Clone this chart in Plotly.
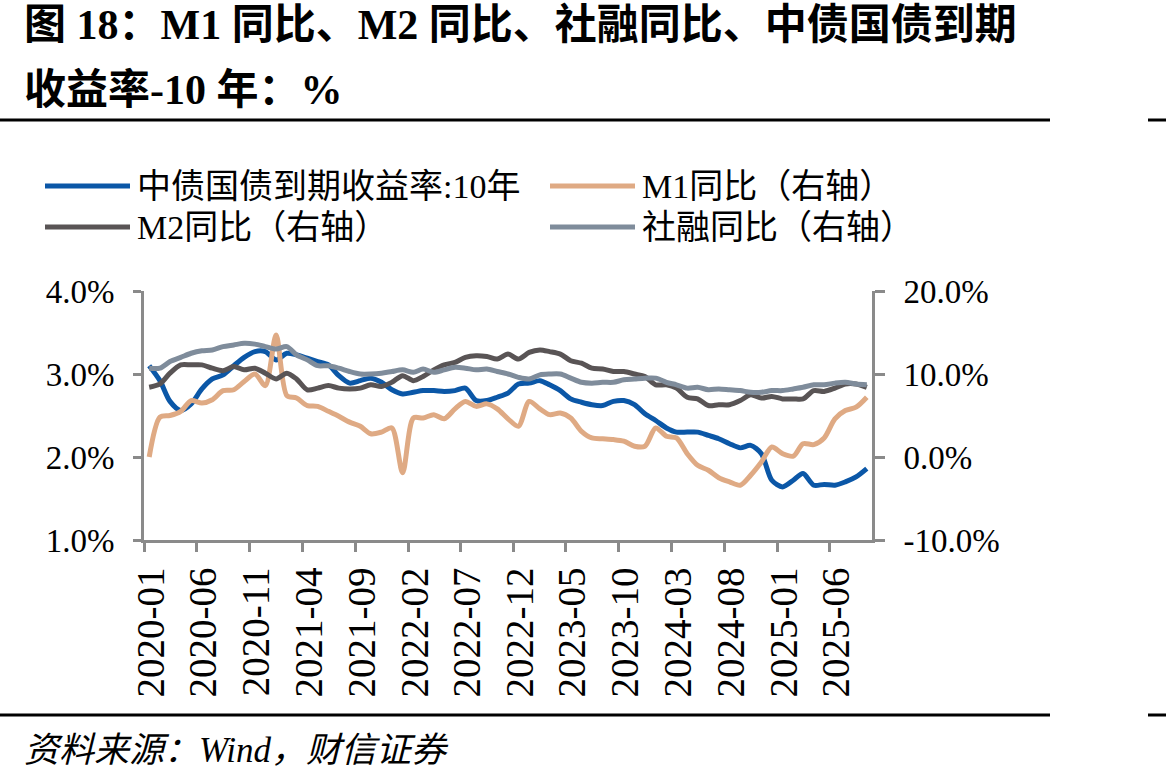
import plotly.graph_objects as go
import pandas as pd

# ---------------- data (monthly, 2020-01 .. 2025-09) ----------------
months = pd.date_range("2020-01-01", "2025-09-01", freq="MS")
x_dates = months + pd.Timedelta(days=15)

yield_10y = [3.10, 2.92, 2.67, 2.56, 2.64, 2.82, 2.94, 2.99, 3.10, 3.20, 3.27, 3.27,
             3.17, 3.25, 3.23, 3.19, 3.15, 3.11, 2.98, 2.89, 2.92, 2.95, 2.90, 2.81,
             2.76, 2.78, 2.80, 2.80, 2.79, 2.80, 2.83, 2.68, 2.68, 2.72, 2.77, 2.88,
             2.89, 2.92, 2.87, 2.80, 2.70, 2.66, 2.63, 2.62, 2.67, 2.68, 2.63, 2.52,
             2.44, 2.35, 2.30, 2.30, 2.30, 2.26, 2.22, 2.16, 2.11, 2.14, 2.04, 1.72,
             1.64, 1.72, 1.80, 1.66, 1.67, 1.66, 1.70, 1.76, 1.86]

m1_yoy = [0.0, 4.8, 5.0, 5.5, 6.8, 6.5, 6.9, 8.0, 8.1, 9.1, 10.0, 8.6,
          14.7, 7.4, 7.1, 6.2, 6.1, 5.5, 4.9, 4.2, 3.7, 2.8, 3.0, 3.5,
          -1.9, 4.7, 4.7, 5.1, 4.6, 5.8, 6.7, 6.1, 6.4, 5.8, 4.6, 3.7,
          6.7, 5.8, 5.1, 5.3, 4.7, 3.1, 2.3, 2.2, 2.1, 1.9, 1.3, 1.3,
          3.5, 2.5, 2.3, 0.4, -1.0, -1.6, -2.5, -3.0, -3.4, -2.2, -0.6, 1.2,
          0.4, 0.1, 1.6, 1.5, 2.3, 4.6, 5.6, 6.0, 7.2]

m2_yoy = [8.4, 8.8, 10.1, 11.1, 11.1, 11.1, 10.7, 10.4, 10.9, 10.5, 10.7, 10.1,
          9.4, 10.1, 9.4, 8.1, 8.3, 8.6, 8.3, 8.2, 8.3, 8.7, 8.5, 9.0,
          9.8, 9.2, 9.7, 10.5, 11.1, 11.4, 12.0, 12.2, 12.1, 11.8, 12.4, 11.8,
          12.6, 12.9, 12.7, 12.4, 11.6, 11.3, 10.7, 10.6, 10.3, 10.3, 10.0, 9.7,
          8.7, 8.7, 8.3, 7.2, 7.0, 6.2, 6.3, 6.3, 6.8, 7.5, 7.1, 7.3,
          7.0, 7.0, 7.0, 8.0, 7.9, 8.3, 8.8, 8.8, 8.4]

tsf_yoy = [10.7, 10.7, 11.5, 12.0, 12.5, 12.8, 12.9, 13.3, 13.5, 13.7, 13.6, 13.3,
           13.0, 13.3, 12.3, 11.7, 11.0, 11.0, 10.7, 10.3, 10.0, 10.0, 10.1, 10.3,
           10.5, 10.2, 10.6, 10.2, 10.5, 10.8, 10.7, 10.5, 10.6, 10.3, 10.0, 9.6,
           9.4, 9.9, 10.0, 10.0, 9.5, 9.0, 8.9, 9.0, 9.0, 9.3, 9.4, 9.5,
           9.5, 9.0, 8.7, 8.3, 8.4, 8.1, 8.2, 8.1, 8.0, 7.8, 7.8, 8.0,
           8.0, 8.2, 8.4, 8.7, 8.7, 8.9, 9.0, 8.8, 8.7]

series_names = ["中债国债到期收益率:10年", "M1同比（右轴）", "M2同比（右轴）", "社融同比（右轴）"]
series_colors = ["#0B57A7", "#DFAA84", "#595455", "#7F8C9B"]

tick_months = months[::5]
tick_text = [d.strftime("%Y-%m") for d in tick_months]

left_ticks = [1, 2, 3, 4]
left_text = ["1.0%", "2.0%", "3.0%", "4.0%"]
right_ticks = [-10, 0, 10, 20]
right_text = ["-10.0%", "0.0%", "10.0%", "20.0%"]

title_lines = ["图 18：M1 同比、M2 同比、社融同比、中债国债到期", "收益率-10 年：%"]
source_text = "资料来源：Wind，财信证券"

# ---------------- figure ----------------
W, H = 1166, 783
def px(x):
    return x / W
def py(y):
    return 1 - y / H

AX = "#8A8A8A"
FONT = "Liberation Serif, Times New Roman, Noto Sans CJK SC, serif"

fig = go.Figure()
data = [(yield_10y, "y"), (m1_yoy, "y2"), (m2_yoy, "y2"), (tsf_yoy, "y2")]
for (vals, yax), name, col in zip(data, series_names, series_colors):
    fig.add_trace(go.Scatter(
        x=x_dates, y=vals, name=name, yaxis=yax, mode="lines",
        line=dict(color=col, width=5, shape="spline", smoothing=0.8),
        showlegend=False))

axis_common = dict(showline=True, linecolor=AX, linewidth=3, ticks="outside",
                   tickcolor=AX, tickwidth=3, showgrid=False, zeroline=False,
                   automargin=False)

fig.update_layout(
    width=W, height=H,
    margin=dict(l=0, r=0, t=0, b=0),
    paper_bgcolor="white", plot_bgcolor="white",
    xaxis=dict(domain=[px(144), px(872)], type="date",
               range=["2020-01-01", "2025-10-01"],
               tickvals=list(tick_months), ticktext=tick_text,
               tickangle=-90, ticklen=9, ticklabelshift=7,
               tickfont=dict(family=FONT, size=39, color="black"),
               anchor="y", **axis_common),
    yaxis=dict(domain=[py(540), py(291)], range=[1, 4],
               tickvals=left_ticks, ticktext=left_text,
               ticklen=8, ticklabelstandoff=12,
               tickfont=dict(family=FONT, size=33, color="black"),
               anchor="x", **axis_common),
    yaxis2=dict(domain=[py(540), py(291)], range=[-10, 20],
                tickvals=right_ticks, ticktext=right_text,
                ticklen=10, ticklabelstandoff=12,
                overlaying="y", side="right", anchor="x",
                tickfont=dict(family=FONT, size=33, color="black"),
                **axis_common),
)

shapes = []
annotations = []

# title
for txt, yy in zip(title_lines, [25, 90]):
    annotations.append(dict(text="<b>" + txt + "</b>", x=px(22), y=py(yy),
                            xref="paper", yref="paper", xanchor="left", yanchor="middle",
                            showarrow=False,
                            font=dict(family=FONT, size=42, color="black")))

# rules
for yy in [120, 715]:
    shapes.append(dict(type="line", xref="paper", yref="paper",
                       x0=0, x1=px(1050), y0=py(yy), y1=py(yy),
                       line=dict(color="black", width=3)))
    shapes.append(dict(type="line", xref="paper", yref="paper",
                       x0=px(1148), x1=1, y0=py(yy), y1=py(yy),
                       line=dict(color="black", width=3)))

# manual legend
legend_pos = [(45, 186), (550, 186), (45, 227), (550, 227)]
for (lx, ly), name, col in zip(legend_pos, series_names, series_colors):
    shapes.append(dict(type="line", xref="paper", yref="paper",
                       x0=px(lx), x1=px(lx + 85), y0=py(ly), y1=py(ly),
                       line=dict(color=col, width=5)))
    annotations.append(dict(text=name, x=px(lx + 90), y=py(ly),
                            xref="paper", yref="paper", xanchor="left", yanchor="middle",
                            showarrow=False,
                            font=dict(family=FONT, size=34, color="black")))

# source
annotations.append(dict(text="<i>" + source_text + "</i>", x=px(22), y=py(750),
                        xref="paper", yref="paper", xanchor="left", yanchor="middle",
                        showarrow=False,
                        font=dict(family=FONT, size=35, color="black")))

fig.update_layout(shapes=shapes, annotations=annotations)

fig.write_html("out.html")
